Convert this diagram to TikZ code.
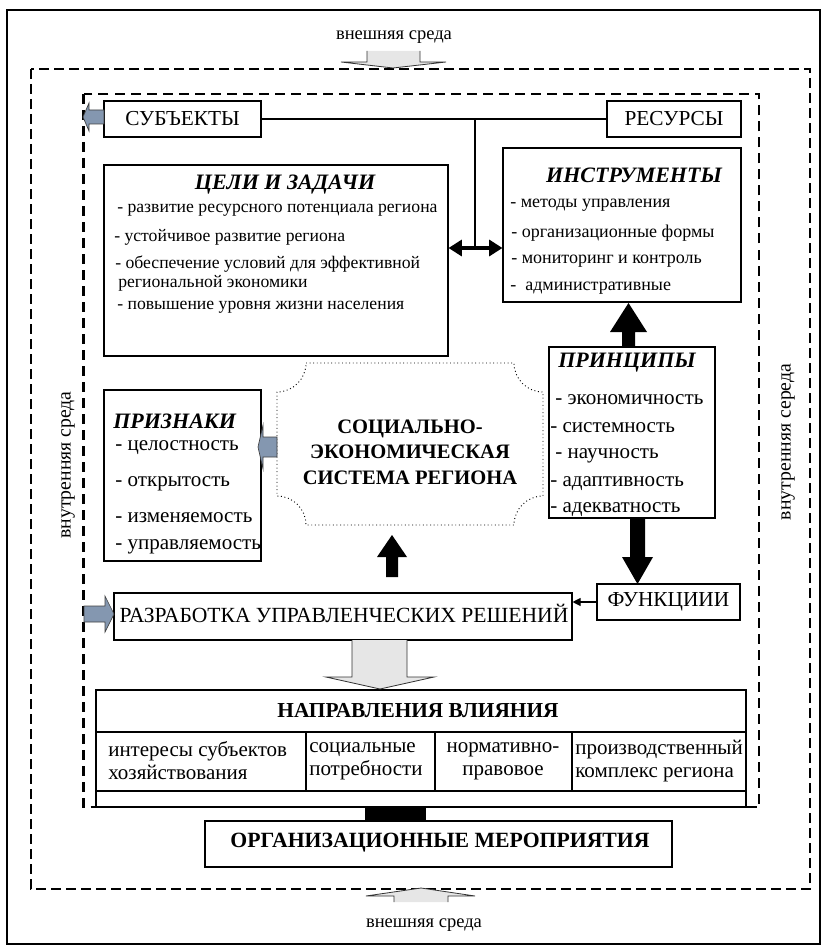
\documentclass[tikz,border=0pt]{standalone}
\usepackage{fontspec}
\setmainfont{Liberation Serif}
\usetikzlibrary{arrows.meta}
\definecolor{bluegray}{RGB}{132,151,176}
\definecolor{arrowgray}{RGB}{230,230,230}
\def\u{0.75pt}
\tikzset{
  box/.style={draw, line width=0.8pt, fill=white, inner sep=0, rectangle},
  txt/.style={inner sep=0, anchor=west},
  lbl/.style={inner sep=0, font=\fontsize{13.9pt}{16pt}\selectfont},
  vlbl/.style={inner sep=0, rotate=90, font=\fontsize{14.8pt}{16pt}\selectfont},
  capt/.style={inner sep=0, font=\fontsize{16pt}{18pt}\selectfont},
  ttl/.style={inner sep=0, font=\fontsize{16.5pt}{19pt}\selectfont\bfseries\itshape},
  goalt/.style={txt, font=\fontsize{13.25pt}{15pt}\selectfont},
  instt/.style={txt, font=\fontsize{13.5pt}{15pt}\selectfont},
  print/.style={txt, font=\fontsize{15.8pt}{17pt}\selectfont},
  cellt/.style={inner sep=0, font=\fontsize{15.75pt}{17.25pt}\selectfont},
  blkarrow/.style={fill=black, draw=none},
  grayarrow/.style={fill=arrowgray, draw=none},
  grayline/.style={draw=black!80, line width=0.6pt},
  bluearrow/.style={fill=bluegray, draw=black!75, line width=0.5pt},
}
\begin{document}
\begin{tikzpicture}[x=0.75pt,y=0.75pt]
\useasboundingbox (0,0) rectangle (823,-945);
% frame
\draw[line width=0.8pt] (7,-10) rectangle (820,-944);
% outer dashed
\draw[line width=0.9pt, dash pattern=on 7.5pt off 3.75pt] (31,-69) rectangle (810,-889);

% labels
\node[lbl] (extop) at (394,-37) {внешняя среда};
\node[lbl] (exbot) at (424,-925) {внешняя среда};
\node[vlbl] (inleft) at (68,-465) {внутренняя среда};
\node[vlbl] (inright) at (788,-442) {внутренняя середа};

% top gray arrow
\fill[grayarrow] (367,-51) -- (367,-62) -- (341,-62) -- (393,-68) -- (446,-62) -- (420,-62) -- (420,-51) -- cycle;
\draw[grayline] (367,-51) -- (367,-62) -- (341,-62) -- (393,-68) -- (446,-62) -- (420,-62) -- (420,-51);
% bottom gray arrow
\fill[grayarrow] (394,-902) -- (394,-896) -- (366,-896) -- (421,-888) -- (475,-896) -- (448,-896) -- (448,-902) -- cycle;
\draw[grayline] (394,-902) -- (394,-896) -- (366,-896) -- (421,-888) -- (475,-896) -- (448,-896) -- (448,-902);

% boxes
\node[box, minimum width=157*\u, minimum height=36*\u] (subj) at (182.5,-119) {};
\node[box, minimum width=134*\u, minimum height=36*\u] (res) at (674,-119) {};
\node[box, minimum width=344*\u, minimum height=191*\u] (goals) at (276,-260.5) {};
\node[box, minimum width=238*\u, minimum height=154*\u] (instr) at (622,-225) {};
\node[box, minimum width=166*\u, minimum height=171*\u] (prin) at (632,-432.5) {};
\node[box, minimum width=143*\u, minimum height=36*\u] (func) at (668.5,-602) {};
\node[box, minimum width=157*\u, minimum height=171*\u] (priz) at (182.5,-475.5) {};
\node[box, minimum width=458*\u, minimum height=47*\u] (razr) at (343,-616.5) {};
\node[box, minimum width=650*\u, minimum height=117*\u] (tab) at (421,-748.5) {};
\node[box, minimum width=467*\u, minimum height=46*\u] (org) at (438.5,-844) {};

% central dotted shape
\draw[dotted, line width=0.7pt, fill=white] (306,-363) -- (514,-363)
  arc[start angle=180, end angle=270, radius=29] -- (543,-496)
  arc[start angle=90, end angle=180, radius=29] -- (306,-525)
  arc[start angle=0, end angle=90, radius=29] -- (277,-392)
  arc[start angle=-90, end angle=0, radius=29] -- cycle;
\node[inner sep=0, align=center, font=\fontsize{15.4pt}{19.1pt}\selectfont\bfseries] (sys) at (410,-452)
  {СОЦИАЛЬНО-\\ЭКОНОМИЧЕСКАЯ\\СИСТЕМА РЕГИОНА};

% box texts
\node[capt] (subjt) at (subj.center) {СУБЪЕКТЫ};
\node[capt] (rest) at (res.center) {РЕСУРСЫ};
\node[capt] (funct) at (func.center) {ФУНКЦИИИ};
\node[capt, font=\fontsize{16.2pt}{18pt}\selectfont] (razrt) at (344,-613) {РАЗРАБОТКА УПРАВЛЕНЧЕСКИХ РЕШЕНИЙ};

\node[ttl] (goalsh) at (285,-185) {ЦЕЛИ И ЗАДАЧИ};
\node[goalt] (g1) at (117,-210) {- развитие ресурсного потенциала региона};
\node[goalt] (g2) at (114,-237) {- устойчивое развитие региона};
\node[goalt] (g3) at (115,-264) {- обеспечение условий для эффективной};
\node[goalt] (g4) at (118,-283) {региональной экономики};
\node[goalt] (g5) at (117,-307) {- повышение уровня жизни населения};

\node[ttl] (instrh) at (634,-175) {ИНСТРУМЕНТЫ};
\node[instt] (i1) at (510,-205) {- методы управления};
\node[instt] (i2) at (511,-233) {- организационные формы};
\node[instt] (i3) at (511,-261) {- мониторинг и контроль};
\node[instt] (i4) at (510,-288) {-\ \ административные};

\node[ttl, anchor=west] (prinh) at (558,-363) {ПРИНЦИПЫ};
\node[print] (p1) at (555,-400) {- экономичность};
\node[print] (p2) at (550,-428) {- системность};
\node[print] (p3) at (555,-456) {- научность};
\node[print] (p4) at (550,-484) {- адаптивность};
\node[print] (p5) at (550,-510) {- адекватность};

\node[ttl, anchor=west] (prizh) at (113,-421) {ПРИЗНАКИ};
\node[print] (z1) at (115,-448) {- целостность};
\node[print] (z2) at (115,-484) {- открытость};
\node[print] (z3) at (115,-518) {- изменяемость};
\node[print] (z4) at (115,-547) {- управляемость};

% table
\draw[line width=0.8pt] (96,-732) -- (746,-732);
\draw[line width=0.8pt] (96,-791) -- (746,-791);
\draw[line width=0.8pt] (306,-732) -- (306,-791);
\draw[line width=0.8pt] (435,-732) -- (435,-791);
\draw[line width=0.8pt] (572,-732) -- (572,-791);
\node[inner sep=0, font=\fontsize{16pt}{18pt}\selectfont\bfseries] (tabh) at (418,-711) {НАПРАВЛЕНИЯ ВЛИЯНИЯ};
\node[cellt, align=left, anchor=west] (c1) at (108,-761) {интересы субъектов\\хозяйствования};
\node[cellt, align=left, anchor=west] (c2) at (309,-761) {социальные\\потребности};
\node[cellt, align=center] (c3) at (503,-761) {нормативно-\\правовое};
\node[cellt, align=left, anchor=west] (c4) at (575,-761) {производственный\\комплекс региона};

\node[inner sep=0, font=\fontsize{16.3pt}{18pt}\selectfont\bfseries] (orgt) at (440,-843) {ОРГАНИЗАЦИОННЫЕ МЕРОПРИЯТИЯ};

% connectors
\draw[line width=0.8pt] (subj.east) -- (res.west);
\coordinate (jtop) at (475,-119);
\coordinate (lev) at (0,-248);
\draw[line width=0.8pt] (jtop) -- (jtop |- lev);
\draw[line width=2.4pt, {Triangle[length=10pt,width=12pt]}-{Triangle[length=10pt,width=12pt]}] (goals.east |- lev) -- (instr.west |- lev);
\draw[line width=0.8pt, -{Triangle[length=6pt,width=6pt]}] (func.west) -- (razr.east |- func.west);

% black block arrows
\fill[blkarrow] (622,-347) -- (622,-332) -- (610,-332) -- (628.5,-303) -- (647,-332) -- (635,-332) -- (635,-347) -- cycle;
\fill[blkarrow] (630,-518) -- (630,-557) -- (622,-557) -- (637.5,-584) -- (653,-557) -- (645,-557) -- (645,-518) -- cycle;
\fill[blkarrow] (386,-577) -- (386,-557) -- (377,-557) -- (392,-535) -- (407,-557) -- (398,-557) -- (398,-577) -- cycle;
\fill[blkarrow] (365,-807) rectangle (426,-821);

% middle gray arrow
\fill[grayarrow] (352,-640) -- (352,-677) -- (326,-677) -- (380,-689) -- (434,-677) -- (407,-677) -- (407,-640) -- cycle;
\draw[grayline] (352,-640) -- (352,-677) -- (326,-677) -- (380,-689) -- (434,-677) -- (407,-677) -- (407,-640);

% inner dashed
\draw[line width=2.2pt, dash pattern=on 7.5pt off 4.5pt] (83.5,-94) rectangle (759,-807);

% blue arrows
\filldraw[bluearrow] (104,-110) -- (89,-110) -- (89,-103) -- (83,-117) -- (89,-131) -- (89,-124) -- (104,-124) -- cycle;
\filldraw[bluearrow] (277,-437) -- (263,-437) -- (263,-425) -- (258,-447) -- (263,-469) -- (263,-457) -- (277,-457) -- cycle;
\filldraw[bluearrow] (84,-606) -- (105,-606) -- (105,-596) -- (114,-614) -- (105,-632) -- (105,-622) -- (84,-622) -- cycle;
\end{tikzpicture}
\end{document}
